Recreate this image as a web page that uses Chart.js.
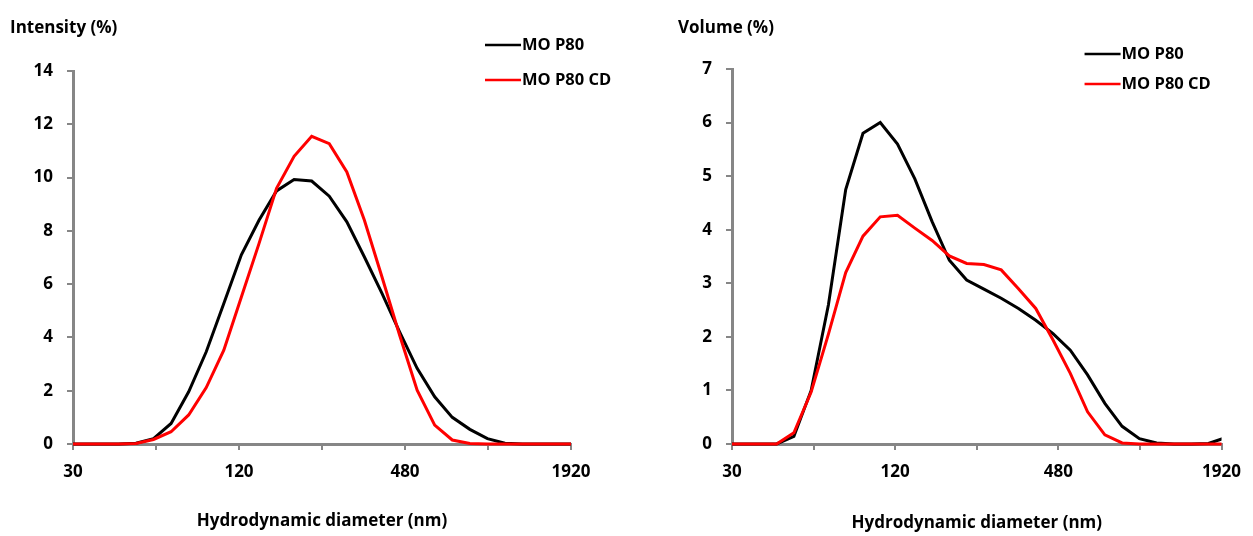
<!DOCTYPE html>
<html>
<head>
<meta charset="utf-8">
<script src="https://cdn.jsdelivr.net/npm/chart.js@4.4.0/dist/chart.umd.min.js"></script>
<style>
html, body { margin: 0; padding: 0; background: #fff; }
#wrap { position: relative; width: 1253px; height: 536px; }
#leftBox { position: absolute; left: 0; top: 0; width: 626px; height: 536px; }
#rightBox { position: absolute; left: 626px; top: 0; width: 627px; height: 536px; }
</style>
</head>
<body>
<div id="wrap">
  <div id="leftBox"><canvas id="leftChart" width="626" height="536"></canvas></div>
  <div id="rightBox"><canvas id="rightChart" width="627" height="536"></canvas></div>
</div>
<script>
// size classes (nm)
var sizes = [28.21, 32.67, 37.84, 43.82, 50.75, 58.77, 68.06, 78.82, 91.28, 105.7,
             122.4, 141.8, 164.2, 190.1, 220.2, 255.0, 295.3, 342.0, 396.1, 458.7,
             531.2, 615.1, 712.4, 825.0, 955.4, 1106, 1281, 1484, 1718, 1990];

var intensityMO = [0, 0, 0, 0, 0.03, 0.2, 0.77, 1.96, 3.46, 5.27,
                   7.1, 8.4, 9.5, 9.93, 9.87, 9.3, 8.34, 7.02, 5.65, 4.21,
                   2.84, 1.77, 1.0, 0.55, 0.2, 0.03, 0, 0, 0, 0];
var intensityCD = [0, 0, 0, 0, 0.02, 0.17, 0.46, 1.09, 2.12, 3.52,
                   5.52, 7.52, 9.6, 10.8, 11.55, 11.27, 10.21, 8.4, 6.27, 4.09,
                   2.02, 0.71, 0.15, 0.02, 0, 0, 0, 0, 0, 0];

var volumeMO = [0, 0, 0, 0, 0.14, 1.0, 2.6, 4.75, 5.8, 6.0,
                5.6, 4.95, 4.15, 3.43, 3.06, 2.89, 2.72, 2.53, 2.31, 2.06,
                1.75, 1.29, 0.76, 0.33, 0.1, 0.02, 0, 0, 0.01, 0.12];
var volumeCD = [0, 0, 0, 0, 0.21, 0.97, 2.05, 3.2, 3.88, 4.24,
                4.27, 4.03, 3.8, 3.51, 3.37, 3.35, 3.25, 2.9, 2.53, 1.94,
                1.32, 0.6, 0.17, 0.02, 0, 0, 0, 0, 0, 0];

var seriesNames = ["MO P80", "MO P80 CD"];
var xTickValues = [30, 60, 120, 240, 480, 960, 1920];
var xTickLabels = ["30", "", "120", "", "480", "", "1920"];

var axis_grey = "#868686";
var font_family = "'Open Sans', 'Liberation Sans', sans-serif";

function toPoints(ys) {
  return sizes.map(function(s, i) { return {x: s, y: ys[i]}; });
}

// legend drawn inside the plot, next to the top right corner
var lineLegend = {
  id: "lineLegend",
  afterDraw: function(chart, args, opts) {
    var ctx = chart.ctx;
    var area = chart.chartArea;
    ctx.save();
    ctx.font = "bold 16.5px " + font_family;
    ctx.textBaseline = "middle";
    ctx.textAlign = "left";
    chart.data.datasets.forEach(function(ds, i) {
      var x0 = area.right + opts.dx;
      var y = area.top + opts.dy + i * opts.gap;
      ctx.strokeStyle = ds.borderColor;
      ctx.lineWidth = 2.5;
      ctx.beginPath();
      ctx.moveTo(x0, y);
      ctx.lineTo(x0 + 36, y);
      ctx.stroke();
      ctx.fillStyle = "#000";
      ctx.fillText(ds.label, x0 + 37, y);
    });
    ctx.restore();
  }
};

function makeChart(canvasId, moData, cdData, yMax, yStep, yTitle, cfg) {
  var ctx = document.getElementById(canvasId).getContext("2d");
  return new Chart(ctx, {
    type: "line",
    data: {
      datasets: [{
        label: seriesNames[0],
        data: toPoints(moData),
        borderColor: "#000000",
        borderWidth: 3,
        pointRadius: 0,
        tension: 0,
        fill: false,
        order: 2,
        clip: {left: 0, top: 0, right: 0, bottom: 3}
      }, {
        label: seriesNames[1],
        data: toPoints(cdData),
        borderColor: "#ff0000",
        borderWidth: 3,
        pointRadius: 0,
        tension: 0,
        fill: false,
        order: 1,
        clip: {left: 0, top: 0, right: 0, bottom: 3}
      }]
    },
    options: {
      responsive: false,
      animation: false,
      events: [],
      layout: {padding: {left: cfg.padLeft, right: cfg.padRight, top: 18, bottom: cfg.padBottom}},
      plugins: {
        legend: {display: false},
        tooltip: {enabled: false},
        title: {
          display: true,
          text: yTitle,
          align: "start",
          color: "#000",
          font: {family: font_family, weight: "bold", size: 17},
          padding: {top: 0, bottom: cfg.titleGap}
        },
        lineLegend: cfg.legend
      },
      scales: {
        x: {
          type: "logarithmic",
          min: 30,
          max: 1920,
          afterBuildTicks: function(scale) {
            scale.ticks = xTickValues.map(function(v) { return {value: v}; });
          },
          afterFit: function(scale) { scale.height = cfg.xHeight; },
          ticks: {
            autoSkip: false,
            maxRotation: 0,
            padding: 12,
            color: "#000",
            font: {family: font_family, weight: "bold", size: 17},
            callback: function(value, index) { return xTickLabels[index]; }
          },
          grid: {drawOnChartArea: false, drawTicks: true, tickLength: 6, color: axis_grey, lineWidth: 2},
          border: {display: true, color: axis_grey, width: 3},
          title: {
            display: true,
            text: "Hydrodynamic diameter (nm)",
            color: "#000",
            font: {family: font_family, weight: "bold", size: 17},
            padding: {top: 20, bottom: 0}
          }
        },
        y: {
          min: 0,
          max: yMax,
          afterFit: function(scale) { scale.width = cfg.yWidth; },
          ticks: {
            stepSize: yStep,
            padding: 14,
            color: "#000",
            font: {family: font_family, weight: "bold", size: 17}
          },
          grid: {drawOnChartArea: false, drawTicks: true, tickLength: 6, color: axis_grey, lineWidth: 2},
          border: {display: true, color: axis_grey, width: 3}
        }
      }
    },
    plugins: [lineLegend]
  });
}

var left_chart = makeChart("leftChart", intensityMO, intensityCD, 14, 2, "Intensity (%)", {
  padLeft: 10, padRight: 55, padBottom: 5, yWidth: 63, titleGap: 32.6, xHeight: 87,
  legend: {dx: -86, dy: -26, gap: 35}
});

var right_chart = makeChart("rightChart", volumeMO, volumeCD, 7, 1, "Volume (%)", {
  padLeft: 52, padRight: 25, padBottom: 3, yWidth: 54, titleGap: 30.6, xHeight: 89,
  legend: {dx: -137, dy: -15, gap: 30}
});
</script>
</body>
</html>
